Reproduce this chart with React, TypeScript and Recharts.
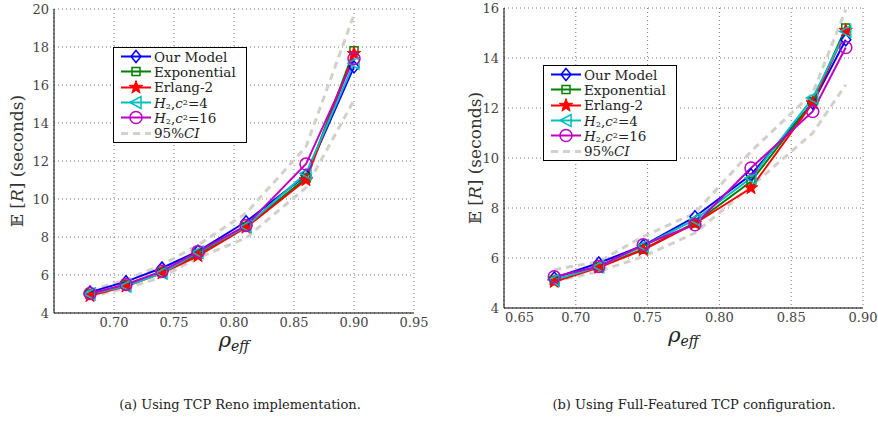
import React from 'react';
import { LineChart, Line, XAxis, YAxis, CartesianGrid, Legend } from 'recharts';

// (a) TCP Reno implementation
const renoRho = [0.68, 0.71, 0.74, 0.77, 0.81, 0.86, 0.9];
const renoOurModel = [5.1, 5.65, 6.37, 7.25, 8.8, 11.25, 16.95];
const renoExponential = [5.0, 5.5, 6.15, 7.1, 8.55, 11.1, 17.8];
const renoErlang2 = [4.9, 5.4, 6.1, 7.0, 8.5, 11.0, 17.65];
const renoH2c4 = [5.0, 5.42, 6.1, 7.2, 8.55, 11.35, 17.15];
const renoH2c16 = [5.03, 5.5, 6.2, 7.23, 8.6, 11.84, 17.4];
const renoCiUpper = [5.2, 5.74, 6.53, 7.58, 9.25, 12.75, 19.7];
const renoCiLower = [4.86, 5.3, 5.9, 6.9, 7.95, 10.6, 15.2];

// (b) Full-featured TCP configuration
const fullRho = [0.685, 0.716, 0.747, 0.783, 0.822, 0.865, 0.888];
const fullOurModel = [5.2, 5.8, 6.5, 7.65, 9.33, 12.2, 14.73];
const fullExponential = [5.1, 5.65, 6.35, 7.4, 9.06, 12.25, 15.2];
const fullErlang2 = [5.05, 5.62, 6.33, 7.38, 8.8, 12.2, 15.1];
const fullH2c4 = [5.12, 5.66, 6.48, 7.53, 9.2, 12.4, 15.06];
const fullH2c16 = [5.25, 5.66, 6.53, 7.33, 9.6, 11.86, 14.42];
const fullCiUpper = [5.53, 5.86, 6.86, 7.8, 10.26, 12.6, 15.93];
const fullCiLower = [5.06, 5.46, 6.06, 7.0, 8.86, 11.0, 12.93];

const renoXTicks = [0.7, 0.75, 0.8, 0.85, 0.9, 0.95];
const renoYTicks = [4, 6, 8, 10, 12, 14, 16, 18, 20];
const fullXTicks = [0.65, 0.7, 0.75, 0.8, 0.85, 0.9];
const fullYTicks = [4, 6, 8, 10, 12, 14, 16];

const SERIF = '"DejaVu Serif", "Liberation Serif", serif';
const CI_COLOR = '#d3d0ca';

type Marker = 'diamond' | 'square' | 'star' | 'triangle' | 'circle';

const sub: React.CSSProperties = { fontSize: '0.6em', position: 'relative', top: '0.2em', lineHeight: 0 };
const sup: React.CSSProperties = { fontSize: '0.6em', position: 'relative', top: '-0.35em', lineHeight: 0 };

const series: { key: string; name: React.ReactNode; color: string; marker: Marker }[] = [
  { key: 'ourModel', name: 'Our Model', color: '#0000ff', marker: 'diamond' },
  { key: 'exponential', name: 'Exponential', color: '#008000', marker: 'square' },
  { key: 'erlang2', name: 'Erlang-2', color: '#ff0000', marker: 'star' },
  {
    key: 'h2c4',
    name: (
      <>
        <i>H</i>
        <span style={sub}>2</span>,<i>c</i>
        <span style={sup}>2</span>=4
      </>
    ),
    color: '#00bfbf',
    marker: 'triangle',
  },
  {
    key: 'h2c16',
    name: (
      <>
        <i>H</i>
        <span style={sub}>2</span>,<i>c</i>
        <span style={sup}>2</span>=16
      </>
    ),
    color: '#bf00bf',
    marker: 'circle',
  },
];

function buildRows(rho: number[], cols: Record<string, number[]>) {
  return rho.map((x, i) => {
    const row: Record<string, number> = { x };
    Object.keys(cols).forEach((k) => {
      row[k] = cols[k][i];
    });
    return row;
  });
}

const renoData = buildRows(renoRho, {
  ourModel: renoOurModel,
  exponential: renoExponential,
  erlang2: renoErlang2,
  h2c4: renoH2c4,
  h2c16: renoH2c16,
  ciUpper: renoCiUpper,
  ciLower: renoCiLower,
});

const fullData = buildRows(fullRho, {
  ourModel: fullOurModel,
  exponential: fullExponential,
  erlang2: fullErlang2,
  h2c4: fullH2c4,
  h2c16: fullH2c16,
  ciUpper: fullCiUpper,
  ciLower: fullCiLower,
});

function MarkerShape({ type, cx, cy, color }: { type: Marker; cx: number; cy: number; color: string }) {
  const sw = 1.5;
  if (type === 'diamond') {
    return (
      <polygon
        points={`${cx},${cy - 6} ${cx + 5},${cy} ${cx},${cy + 6} ${cx - 5},${cy}`}
        fill="none"
        stroke={color}
        strokeWidth={sw}
      />
    );
  }
  if (type === 'square') {
    return <rect x={cx - 4} y={cy - 4} width={8} height={8} fill="none" stroke={color} strokeWidth={sw} />;
  }
  if (type === 'star') {
    const pts: string[] = [];
    for (let i = 0; i < 10; i++) {
      const r = i % 2 === 0 ? 7 : 2.8;
      const a = -Math.PI / 2 + (i * Math.PI) / 5;
      pts.push(`${cx + r * Math.cos(a)},${cy + r * Math.sin(a)}`);
    }
    return <polygon points={pts.join(' ')} fill={color} stroke={color} strokeWidth={1} />;
  }
  if (type === 'triangle') {
    return (
      <polygon
        points={`${cx - 6},${cy} ${cx + 5},${cy - 6} ${cx + 5},${cy + 6}`}
        fill="none"
        stroke={color}
        strokeWidth={sw}
      />
    );
  }
  return <circle cx={cx} cy={cy} r={6} fill="none" stroke={color} strokeWidth={sw} />;
}

function LegendBox() {
  const rowStyle: React.CSSProperties = { display: 'flex', alignItems: 'center', height: 15.3, overflow: 'visible' };
  return (
    <div
      style={{
        border: '1px solid #000',
        background: '#fff',
        padding: '1px 10px 1px 6px',
        fontFamily: SERIF,
        fontSize: 13.5,
        color: '#222',
        lineHeight: '14px',
      }}
    >
      {series.map((s) => (
        <div key={s.key} style={rowStyle}>
          <svg width={32} height={15} style={{ marginRight: 2 }}>
            <line x1={1} y1={7.5} x2={31} y2={7.5} stroke={s.color} strokeWidth={2} />
            <MarkerShape type={s.marker} cx={16} cy={7.5} color={s.color} />
          </svg>
          <span style={{ whiteSpace: 'nowrap' }}>{s.name}</span>
        </div>
      ))}
      <div style={rowStyle}>
        <svg width={32} height={15} style={{ marginRight: 2 }}>
          <line x1={1} y1={7.5} x2={31} y2={7.5} stroke={CI_COLOR} strokeWidth={3} strokeDasharray="7 5" />
        </svg>
        <span>
          95%<i>CI</i>
        </span>
      </div>
    </div>
  );
}

const yTitle = (dx: number) => (props: any) => {
  const vb = props.viewBox || { x: 0, y: 0, width: 0, height: 0 };
  const x = vb.x + dx;
  const y = vb.y + vb.height / 2;
  return (
    <text
      x={x}
      y={y}
      transform={`rotate(-90, ${x}, ${y})`}
      textAnchor="middle"
      dominantBaseline="central"
      fontFamily={SERIF}
      fontSize={17}
      fill="#333"
    >
      <tspan>𝔼 [</tspan>
      <tspan fontStyle="italic">R</tspan>
      <tspan>] (seconds)</tspan>
    </text>
  );
};

const xTitle = (props: any) => {
  const vb = props.viewBox || { x: 0, y: 0, width: 0, height: 0 };
  const x = vb.x + vb.width / 2;
  return (
    <text x={x} y={vb.y + 34} textAnchor="middle" fontFamily={SERIF} fontSize={21} fill="#222">
      <tspan fontStyle="italic">ρ</tspan>
      <tspan fontStyle="italic" fontSize={14} dy={4}>
        eff
      </tspan>
    </text>
  );
};

// first x tick label is nudged right when it sits at the corner (as in panel b)
const makeXTick = (startAtFirst: boolean) => (props: any) => {
  const { x, y, payload, index } = props;
  const first = startAtFirst && index === 0;
  return (
    <text
      x={first ? x + 1 : x}
      y={y}
      dy="0.71em"
      textAnchor={first ? 'start' : 'middle'}
      fontFamily={SERIF}
      fontSize={13}
      fill="#444"
    >
      {Number(payload.value).toFixed(2)}
    </text>
  );
};

interface PanelProps {
  data: Record<string, number>[];
  width: number;
  height: number;
  margin: { top: number; right: number; bottom: number; left: number };
  yAxisWidth: number;
  xAxisHeight: number;
  yTitleDx: number;
  xDomain: [number, number];
  yDomain: [number, number];
  xTicks: number[];
  yTicks: number[];
  legendPos: { left: number; top: number };
  nudgeFirstXTick?: boolean;
}

function Panel(p: PanelProps) {
  const tickStyle = { fontFamily: SERIF, fontSize: 13, fill: '#444' };
  return (
    <LineChart width={p.width} height={p.height} data={p.data} margin={p.margin}>
      <CartesianGrid stroke="#777" strokeDasharray="1 3" />
      <XAxis
        dataKey="x"
        type="number"
        domain={p.xDomain}
        ticks={p.xTicks}
        allowDataOverflow
        tick={makeXTick(!!p.nudgeFirstXTick)}
        tickLine={false}
        tickSize={0}
        tickMargin={5}
        axisLine={{ stroke: '#000' }}
        height={p.xAxisHeight}
        label={xTitle}
      />
      <XAxis
        xAxisId="top"
        orientation="top"
        type="number"
        domain={p.xDomain}
        allowDataOverflow
        tick={false}
        tickLine={false}
        height={0}
        axisLine={{ stroke: '#000' }}
      />
      <YAxis
        type="number"
        domain={p.yDomain}
        ticks={p.yTicks}
        allowDataOverflow
        tick={tickStyle}
        tickLine={false}
        tickSize={0}
        tickMargin={5}
        axisLine={{ stroke: '#000' }}
        width={p.yAxisWidth}
        label={yTitle(p.yTitleDx)}
      />
      <YAxis
        yAxisId="right"
        orientation="right"
        type="number"
        domain={p.yDomain}
        allowDataOverflow
        tick={false}
        tickLine={false}
        width={0}
        axisLine={{ stroke: '#000' }}
      />
      <Legend
        layout="vertical"
        align="center"
        verticalAlign="middle"
        content={() => <LegendBox />}
        wrapperStyle={{ left: p.legendPos.left, top: p.legendPos.top, width: 'auto', height: 'auto' }}
      />
      <Line
        dataKey="ciUpper"
        stroke={CI_COLOR}
        strokeWidth={3}
        strokeDasharray="7 5"
        dot={false}
        activeDot={false}
        isAnimationActive={false}
      />
      <Line
        dataKey="ciLower"
        stroke={CI_COLOR}
        strokeWidth={3}
        strokeDasharray="7 5"
        dot={false}
        activeDot={false}
        isAnimationActive={false}
      />
      {series.map((s) => (
        <Line
          key={s.key}
          dataKey={s.key}
          stroke={s.color}
          strokeWidth={2}
          activeDot={false}
          isAnimationActive={false}
          dot={(d: any) => (
            <g key={`${s.key}-${d.index}`}>
              <MarkerShape type={s.marker} cx={d.cx} cy={d.cy} color={s.color} />
            </g>
          )}
        />
      ))}
    </LineChart>
  );
}

const captionStyle: React.CSSProperties = {
  position: 'absolute',
  top: 397,
  fontFamily: SERIF,
  fontSize: 13,
  color: '#222',
  whiteSpace: 'nowrap',
  transform: 'translateX(-50%)',
};

export default function App() {
  return (
    <div
      style={{
        position: 'absolute',
        left: 0,
        top: 0,
        width: 878,
        height: 421,
        background: '#fff',
        overflow: 'hidden',
      }}
    >
      <div style={{ position: 'absolute', left: 0, top: 0 }}>
        <Panel
          data={renoData}
          width={440}
          height={360}
          margin={{ top: 9, right: 26, bottom: 0, left: 0 }}
          yAxisWidth={54}
          xAxisHeight={47}
          yTitleDx={17}
          xDomain={[0.65, 0.95]}
          yDomain={[4, 20]}
          xTicks={renoXTicks}
          yTicks={renoYTicks}
          legendPos={{ left: 113, top: 47 }}
        />
      </div>
      <div style={{ position: 'absolute', left: 440, top: 0 }}>
        <Panel
          data={fullData}
          width={438}
          height={360}
          margin={{ top: 8, right: 15, bottom: 0, left: 0 }}
          yAxisWidth={64}
          xAxisHeight={52}
          yTitleDx={35}
          xDomain={[0.65, 0.9]}
          yDomain={[4, 16]}
          xTicks={fullXTicks}
          yTicks={fullYTicks}
          legendPos={{ left: 103, top: 65 }}
          nudgeFirstXTick
        />
      </div>
      <div style={{ ...captionStyle, left: 240 }}>(a) Using TCP Reno implementation.</div>
      <div style={{ ...captionStyle, left: 694 }}>(b) Using Full-Featured TCP configuration.</div>
    </div>
  );
}
